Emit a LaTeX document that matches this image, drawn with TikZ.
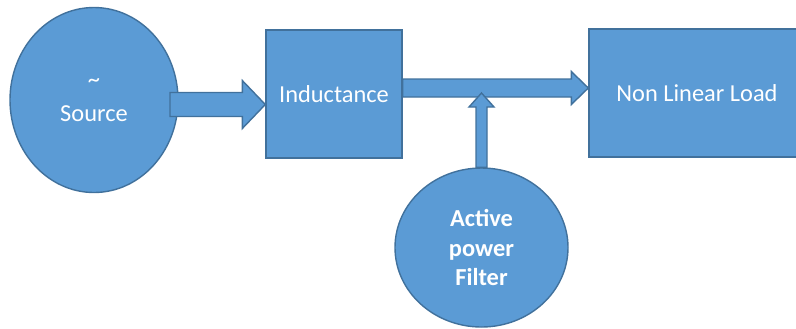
\documentclass[tikz,border=0pt]{standalone}
\usepackage{fontspec}
\setmainfont{Carlito}
\usetikzlibrary{shapes.geometric,calc}
\definecolor{boxblue}{HTML}{5B9BD5}
\definecolor{edgeblue}{HTML}{41719C}
\tikzset{
  blockfill/.style={fill=boxblue, draw=edgeblue, line width=0.7pt},
  blocklbl/.style={text=white, font=\fontsize{12.2}{14.8}\selectfont, align=center},
  roundblock/.style={blockfill, blocklbl, ellipse, inner sep=0pt},
  squareblock/.style={blockfill, blocklbl, rectangle, inner sep=0pt},
  blockarrow/.style={blockfill, line join=miter}
}

\begin{document}
\begin{tikzpicture}[x=0.5pt,y=-0.5pt]
  \useasboundingbox (0,0) rectangle (796,328);

  % blocks
  \node [roundblock, minimum width=84pt, minimum height=92.5pt] (src) at (94,100) {\textasciitilde\\[2pt]Source};
  \node [squareblock, minimum width=68pt, minimum height=64pt] (ind) at (334,94) {\raisebox{-1pt}{Inductance}};
  \node [squareblock, minimum width=108pt, minimum height=64pt] (load) at (697,93) {\raisebox{-1.5pt}{Non Linear Load}};
  \node [roundblock, minimum width=86.5pt, minimum height=79.5pt] (apf) at (481.5,247.5) {\bfseries Active\\\bfseries power\\\bfseries Filter};

  % source -> inductance
  \coordinate (a1s) at (170,104.5);
  \coordinate (a1e) at (ind.west |- a1s);
  \draw [blockarrow] ($(a1s)+(0,-12)$) -- ($(a1e)+(-23,-12)$) -- ++(0,-12) -- (a1e)
    -- ($(a1e)+(-23,24)$) -- ++(0,-12) -- ($(a1s)+(0,12)$) -- cycle;

  % inductance -> load
  \coordinate (a2s) at (ind.east |- 0,88);
  \coordinate (a2e) at (load.west |- a2s);
  \draw [blockarrow] ($(a2s)+(0,-9)$) -- ($(a2e)+(-17,-9)$) -- ++(0,-7.5) -- (a2e)
    -- ($(a2e)+(-17,16.5)$) -- ++(0,-7.5) -- ($(a2s)+(0,9)$) -- cycle;

  % filter -> line
  \coordinate (a3s) at (apf.north);
  \coordinate (a3e) at (apf.north |- 0,93);
  \draw [blockarrow] ($(a3s)+(-5.5,0)$) -- ($(a3e)+(-5.5,14)$) -- ++(-7,0) -- (a3e)
    -- ($(a3e)+(12.5,14)$) -- ++(-7,0) -- ($(a3s)+(5.5,0)$) -- cycle;
\end{tikzpicture}
\end{document}
